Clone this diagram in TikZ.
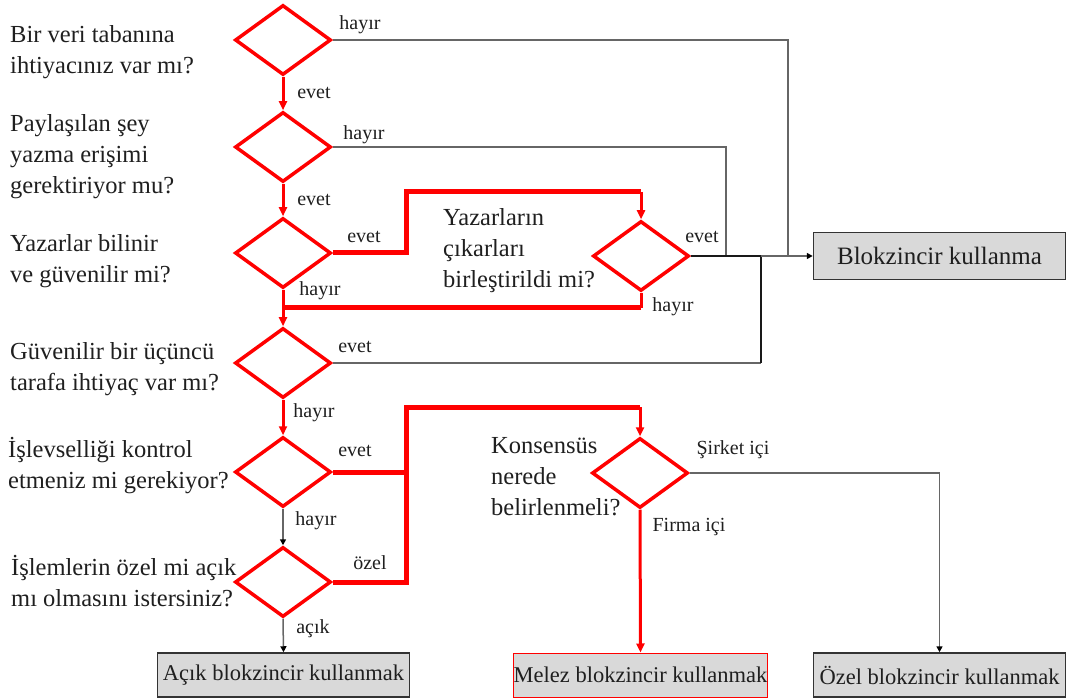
\documentclass[tikz,border=0pt]{standalone}
\usepackage{fontspec}
\setmainfont{Liberation Serif}
\usetikzlibrary{shapes.geometric,arrows.meta}
\begin{document}
\begin{tikzpicture}[x=1pt,y=-1pt]
\tikzset{
  dec/.style={diamond, draw=red, line width=3.5pt, minimum width=96pt, minimum height=70pt, inner sep=0pt},
  q/.style={align=left, font=\fontsize{24.5}{31}\selectfont, text=black!88, inner sep=0pt, anchor=west},
  lbl/.style={font=\fontsize{20}{24}\selectfont, text=black!88, inner sep=0pt},
  res/.style={draw=black!80, line width=1.5pt, fill=black!15, minimum width=252pt, minimum height=44pt,
              font=\fontsize{22.5}{27}\selectfont, text=black!88, inner sep=0pt},
  redflow/.style={draw=red, line width=3pt, -{Triangle[length=9pt,width=8pt]}},
  redbus/.style={draw=red, line width=5pt},
  redline/.style={draw=red, line width=3pt},
  grayline/.style={draw=black!60, line width=1.5pt},
  grayflow/.style={draw=black!60, line width=1.5pt, -{Triangle[length=6pt,width=6pt,color=black]}},
  darkline/.style={draw=black!90, line width=1.5pt},
}
\useasboundingbox (0,0) rectangle (1068,700);

% decisions
\node[dec] (d1) at (283,40) {};
\node[dec] (d2) at (283,147) {};
\node[dec] (d3) at (283,253) {};
\node[dec] (d4) at (283,363) {};
\node[dec] (d5) at (283,472) {};
\node[dec] (d6) at (283,582) {};
\node[dec] (d7) at (641,256) {};
\node[dec] (d8) at (640,473) {};

% outcomes
\node[res, minimum height=47pt, font=\fontsize{25}{30}\selectfont] (rno) at (939.5,256) {Blokzincir kullanma};
\node[res] (ropen) at (283.5,675) {Açık blokzincir kullanmak};
\node[res, draw=red, line width=1pt] (rhyb) at (640.5,675) {Melez blokzincir kullanmak};
\node[res] (rpriv) at (939.5,675) {Özel blokzincir kullanmak};

% questions
\node[q] (t1) at (10,52) {Bir veri tabanına\\ihtiyacınız var mı?};
\node[q] (t2) at (10,157) {Paylaşılan şey\\yazma erişimi\\gerektiriyor mu?};
\node[q] (t3) at (10,261) {Yazarlar bilinir\\ve güvenilir mi?};
\node[q] (t4) at (10,369) {Güvenilir bir üçüncü\\tarafa ihtiyaç var mı?};
\node[q] (t5) at (8,466) {İşlevselliği kontrol\\etmeniz mi gerekiyor?};
\node[q] (t6) at (11,581) {İşlemlerin özel mi açık\\mı olmasını istersiniz?};
\node[q] (t7) at (443,251) {Yazarların\\çıkarları\\birleştirildi mi?};
\node[q] (t8) at (491,477) {Konsensüs\\nerede\\belirlenmeli?};

% junction points
\coordinate (ja) at (406,192);
\coordinate (jc) at (641,192);
\coordinate (jb) at (283,308);
\coordinate (jd) at (641,308);
\coordinate (je) at (406,407);
\coordinate (jf) at (640,407);
\coordinate (g1) at (788,256);
\coordinate (g2) at (726,256);
\coordinate (g3) at (761,256);

% main red path
\draw[redflow] (d1.south) -- (d2.north);
\draw[redflow] (d2.south) -- (d3.north);
\draw[redflow] (d3.south) -- (d4.north);
\draw[redflow] (d4.south) -- (d5.north);
\draw[redbus] (d3.east) -| (ja) -- (jc);
\draw[redflow] (jc) -- (d7.north);
\draw[redline] (d7.south) -- (jd);
\draw[redbus] (jd) -- (jb);
\draw[redbus] (d6.east) -| (je) -- (jf);
\draw[redbus] (d5.east) -- (d5.east -| je);
\draw[redflow] (jf) -- (d8.north);
\draw[redflow] (d8.south) -- (rhyb.north);

% grey branches
\draw[grayline] (d1.east) -| (g1);
\draw[grayline] (d2.east) -| (g2);
\draw[darkline] (d7.east) -- (g3);
\draw[grayline] (d4.east) -- (d4.east -| g3);
\draw[darkline] (d4.east -| g3) -- (g3);
\draw[grayflow] (g3) -- (rno.west);
\draw[grayflow] (d5.south) -- (d6.north);
\draw[grayflow] (d6.south) -- (ropen.north);
\draw[grayflow] (d8.east) -| (rpriv.north);

% branch labels
\node[lbl] (l1) at (360,25) {hayır};
\node[lbl] (l2) at (314,93) {evet};
\node[lbl] (l3) at (364,135) {hayır};
\node[lbl] (l4) at (314,200) {evet};
\node[lbl] (l5) at (364,237) {evet};
\node[lbl] (l6) at (320,291) {hayır};
\node[lbl] (l7) at (702,237) {evet};
\node[lbl] (l8) at (673,307) {hayır};
\node[lbl] (l9) at (355,347) {evet};
\node[lbl] (l10) at (314,413) {hayır};
\node[lbl] (l11) at (355,451) {evet};
\node[lbl] (l12) at (316,521) {hayır};
\node[lbl] (l13) at (370,563) {özel};
\node[lbl] (l14) at (313,629) {açık};
\node[lbl] (l15) at (733,450) {Şirket içi};
\node[lbl] (l16) at (689,527) {Firma içi};
\end{tikzpicture}
\end{document}
